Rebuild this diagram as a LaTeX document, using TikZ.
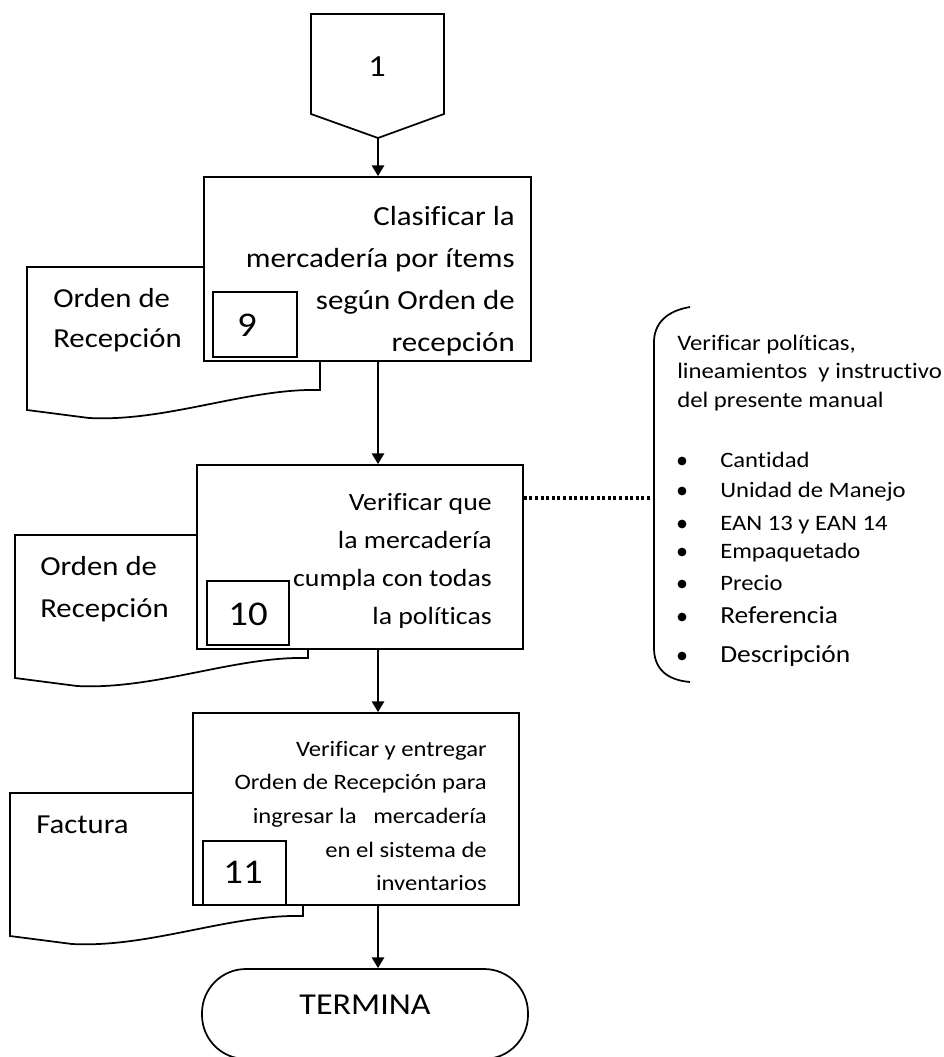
\documentclass[tikz,border=0pt]{standalone}
\usepackage{fontspec}
\setmainfont{Carlito}[Ligatures=CommonOff, FakeStretch=1.12]
\usetikzlibrary{arrows.meta,fit}

\tikzset{
  caja/.style={draw, fill=white, line width=1.3pt, inner sep=0pt},
  hoja/.style={draw, fill=white, line width=1.3pt},
  flecha/.style={line width=1.7pt, -{Triangle[length=8pt,width=9pt]}},
  paso/.style={inner sep=0pt, anchor=base east, text width=240pt, align=flush right},
  etiqueta/.style={inner sep=0pt, anchor=base west, text width=220pt, align=flush left},
  num/.style={inner sep=0pt, anchor=base, font=\fontsize{26}{30}\selectfont},
}

\begin{document}
\begin{tikzpicture}[x=0.75pt,y=-0.75pt]
  \useasboundingbox (0,0) rectangle (944,1057);

  % conector de pagina
  \draw[hoja] (311,14) -- (444,14) -- (444,114) -- (378,138) -- (311,114) -- cycle;
  \node[inner sep=0pt, anchor=base, font=\fontsize{23}{27}\selectfont] (uno) at (377,76) {1};
  \coordinate (pie) at (378,138);

  % documentos, quedan debajo de las cajas
  \foreach \dx/\dy in {27/267, 15/535, 10/793}
    \draw[hoja, shift={(\dx,\dy)}] (0,0) -- (293,0) -- (293,123)
      .. controls (220,121) and (140,155) .. (62,151) -- (0,143) -- cycle;

  % cajas de proceso
  \node[caja, fit={(204,177)(531,361)}] (clasif) {};
  \node[caja, fit={(197,465)(523,649)}] (verif) {};
  \node[caja, fit={(193,713)(519,905)}] (entrega) {};
  \node[caja, rounded corners=33pt, fit={(202,969)(528,1059)},
        font=\fontsize{22.8}{28}\selectfont] (termina) {TERMINA};

  % numero de cada paso
  \node[caja, fit={(213,292)(297,357)}] (c9) {};
  \node[caja, fit={(207,581)(289,645)}] (c10) {};
  \node[caja, fit={(203,841)(286,905)}] (c11) {};
  \node[num] (n9) at (247,336) {9};
  \node[num] (n10) at (248,625) {10};
  \node[num] (n11) at (243,883) {11};

  % textos
  \node[paso, font=\fontsize{20.7}{31.5}\selectfont] (t-clasif) at (515,225)
    {Clasificar la\\mercadería por ítems\\según Orden de\\recepción};
  \node[paso, font=\fontsize{18.6}{28.5}\selectfont] (t-verif) at (492,510)
    {Verificar que\\la mercadería\\cumpla con todas\\la políticas};
  \node[paso, font=\fontsize{16.5}{25.3}\selectfont] (t-entrega) at (487,756)
    {Verificar y entregar\\Orden de Recepción para\\ingresar la\ \ \ mercadería\\en el sistema de\\inventarios};

  \node[etiqueta, font=\fontsize{20.6}{30}\selectfont] (doc1) at (53,307) {Orden de\\Recepción};
  \node[etiqueta, font=\fontsize{20.6}{31.5}\selectfont] (doc2) at (40,575) {Orden de\\Recepción};
  \node[etiqueta, font=\fontsize{20.6}{31.5}\selectfont] (doc3) at (36,833) {Factura};

  % flechas
  \draw[flecha] (pie) -- (pie |- clasif.north);
  \draw[flecha] (clasif.south -| pie) -- (verif.north -| pie);
  \draw[flecha] (verif.south -| pie) -- (entrega.north -| pie);
  \draw[flecha] (entrega.south -| pie) -- (termina.north -| pie);

  % nota con llave
  \draw[line width=1.3pt] (690,307) .. controls (666,311) and (654,324) .. (654,342)
    -- (654,648) .. controls (654,668) and (666,680) .. (690,682);
  \coordinate (llave) at (654,498);
  \draw[line width=2.4pt, dash pattern=on 2.2pt off 2pt] (verif.east |- llave) -- (llave);

  \node[etiqueta, font=\fontsize{16.6}{21.4}\selectfont] (politicas) at (677,350)
    {Verificar políticas,\\lineamientos\ \ y instructivo\\del presente manual};
  \foreach \y/\tam/\txt in {467/16.5/Cantidad, 497/16.5/Unidad de Manejo,
      530/16.5/EAN 13 y EAN 14, 558/16.5/Empaquetado, 590/16.5/Precio,
      623/18.4/Referencia, 662/18.4/Descripción} {
    \fill (682,\y-6) circle (3.3pt);
    \node[inner sep=0pt, anchor=base west, font=\fontsize{\tam}{20}\selectfont] (item-\y) at (720,\y) {\txt};
  }
\end{tikzpicture}
\end{document}
